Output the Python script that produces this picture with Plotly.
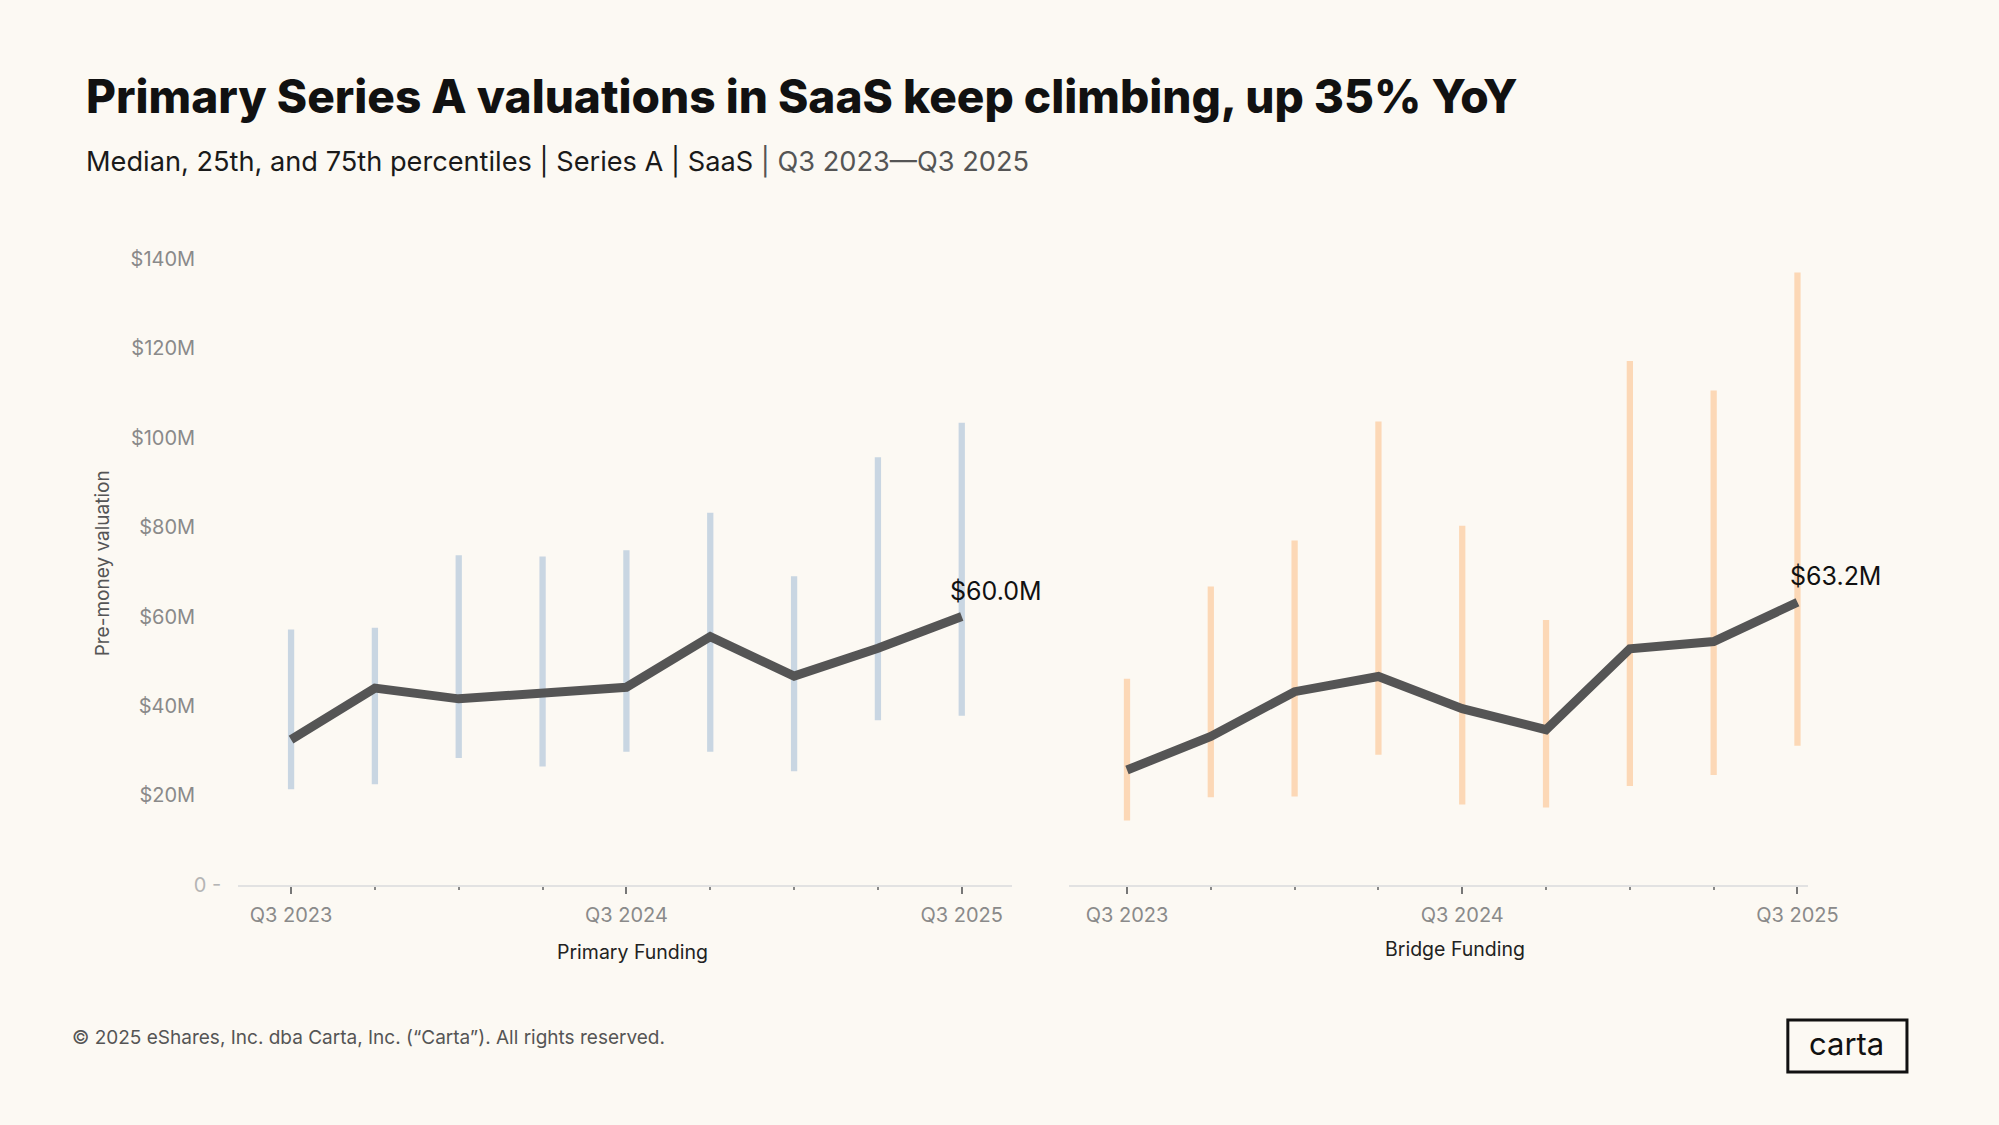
import plotly.graph_objects as go

W, H = 1999, 1125

quarters = list(range(9))  # Q3 2023 ... Q3 2025
tick_pos = [0, 4, 8]
tick_labels = ["Q3 2023", "Q3 2024", "Q3 2025"]

primary_p25 = [21.4, 22.5, 28.4, 26.5, 29.8, 29.8, 25.4, 36.8, 37.8]
primary_median = [32.5, 44.0, 41.6, 42.7, 44.2, 55.5, 46.7, 52.9, 60.0]
primary_p75 = [57.1, 57.5, 73.7, 73.4, 74.8, 83.2, 69.0, 95.6, 103.3]

bridge_p25 = [14.4, 19.6, 19.8, 29.1, 18.0, 17.3, 22.1, 24.6, 31.1]
bridge_median = [25.7, 33.2, 43.2, 46.6, 39.4, 34.7, 52.8, 54.4, 63.2]
bridge_p75 = [46.1, 66.7, 77.0, 103.6, 80.3, 59.2, 117.1, 110.5, 136.9]

y_ticks = [0, 20, 40, 60, 80, 100, 120, 140]

BG = "#fcf9f3"
FONT = "Inter"


def px(x):
    return x / W


def py(y):
    return 1 - y / H


def spread(p25, p75):
    return [hi - lo for lo, hi in zip(p25, p75)]


fig = go.Figure()

# percentile range bars
fig.add_trace(go.Bar(x=quarters, y=spread(primary_p25, primary_p75), base=primary_p25,
                     width=0.075, marker=dict(color="#c9d6e2", line=dict(width=0)),
                     xaxis="x", yaxis="y", showlegend=False, hoverinfo="skip"))
fig.add_trace(go.Bar(x=quarters, y=spread(bridge_p25, bridge_p75), base=bridge_p25,
                     width=0.075, marker=dict(color="#fcd8b6", line=dict(width=0)),
                     xaxis="x2", yaxis="y2", showlegend=False, hoverinfo="skip"))

# medians
fig.add_trace(go.Scatter(x=quarters, y=primary_median, mode="lines",
                         line=dict(color="#555555", width=9), xaxis="x", yaxis="y", showlegend=False))
fig.add_trace(go.Scatter(x=quarters, y=bridge_median, mode="lines",
                         line=dict(color="#555555", width=9), xaxis="x2", yaxis="y2", showlegend=False))

# invisible tail keeps the $ labels aligned left of the "0 -" tick
hidden = "<span style='color:rgba(0,0,0,0)'>\u00a0\u00a0\u00a0-</span>"
y_text = ["<span style='color:#b5b5b5'>0\u00a0-</span>"] + [f"${v}M{hidden}" for v in y_ticks[1:]]

xaxis_common = dict(
    tickmode="array", tickvals=tick_pos, ticktext=tick_labels,
    ticks="outside", ticklen=7, tickwidth=1.5, tickcolor="#777777",
    minor=dict(tickmode="linear", tick0=0, dtick=1, ticks="outside", ticklen=3, tickwidth=1.5,
               tickcolor="#888888", showgrid=False),
    showline=True, linecolor="#e2e2e2", linewidth=2,
    showgrid=False, zeroline=False,
    ticklabelstandoff=4,
    tickfont=dict(family=FONT, size=20, color="#8a8a8a"),
)

fig.update_layout(
    autosize=True,
    margin=dict(l=0, r=0, t=0, b=0),
    paper_bgcolor=BG, plot_bgcolor=BG,
    barmode="overlay",
    xaxis=dict(domain=[px(242), px(1028)], range=[-0.63, 8.6], anchor="y", **xaxis_common),
    xaxis2=dict(domain=[px(1086), px(1836)], range=[-0.69, 8.12], anchor="y2", **xaxis_common),
    yaxis=dict(domain=[py(892), py(252)], range=[0, 140], anchor="x",
               tickmode="array", tickvals=y_ticks, ticktext=y_text,
               showgrid=False, zeroline=False, showline=False, ticks="",
               ticklabelstandoff=16,
               tickfont=dict(family=FONT, size=20, color="#8a8a8a")),
    yaxis2=dict(domain=[py(892), py(252)], range=[0, 140], anchor="x2", matches="y",
                showticklabels=False, showgrid=False, zeroline=False, showline=False),
)

annotations = [
    dict(x=px(85), y=py(86), text="Primary Series A valuations in SaaS keep climbing, up 35% YoY",
         xanchor="left", yanchor="middle",
         font=dict(family=FONT, size=46, color="#111111", weight=800)),
    dict(x=px(85), y=py(153),
         text="Median, 25th, and 75th percentiles | Series A | SaaS "
              "<span style='color:#555555'>| Q3 2023\u2014Q3 2025</span>",
         xanchor="left", yanchor="middle",
         font=dict(family=FONT, size=27.2, color="#1a1a1a")),
    dict(x=px(105), y=py(563), text="Pre-money valuation", textangle=-90,
         xanchor="center", yanchor="middle",
         font=dict(family=FONT, size=19, color="#555555")),
    dict(x=px(642), y=py(961), text="Primary Funding", xanchor="center", yanchor="middle",
         font=dict(family=FONT, size=19.5, color="#222222")),
    dict(x=px(1478), y=py(957), text="Bridge Funding", xanchor="center", yanchor="middle",
         font=dict(family=FONT, size=19.5, color="#222222")),
    dict(x=quarters[-1], y=primary_median[-1], xref="x", yref="y",
         text=f"${primary_median[-1]:.1f}M", showarrow=False,
         xanchor="center", yanchor="middle", xshift=34, yshift=26,
         font=dict(family=FONT, size=25, color="#111111")),
    dict(x=quarters[-1], y=bridge_median[-1], xref="x2", yref="y2",
         text=f"${bridge_median[-1]:.1f}M", showarrow=False,
         xanchor="center", yanchor="middle", xshift=38, yshift=26,
         font=dict(family=FONT, size=25, color="#111111")),
    dict(x=px(71), y=py(1048),
         text="\u00a9 2025 eShares, Inc. dba Carta, Inc. (\u201cCarta\u201d). All rights reserved.",
         xanchor="left", yanchor="middle",
         font=dict(family=FONT, size=19, color="#555555")),
    dict(x=px(1876), y=py(1054), text="carta", xanchor="center", yanchor="middle",
         font=dict(family=FONT, size=31, color="#111111")),
]
for a in annotations:
    a.setdefault("xref", "paper")
    a.setdefault("yref", "paper")
    a.setdefault("showarrow", False)
fig.update_layout(annotations=annotations)

fig.add_shape(type="rect", xref="paper", yref="paper",
              x0=px(1816), x1=px(1937), y0=py(1083), y1=py(1030),
              line=dict(color="#111111", width=3), fillcolor="rgba(0,0,0,0)")

# let the figure fill the whole window, pinned to the top-left corner
page_fix = (
    "document.documentElement.style.overflow='hidden';"
    "document.body.style.margin='0';"
    "document.body.style.background='%s';"
    "var d=document.getElementById('{plot_id}');"
    "d.style.position='fixed';d.style.left='0';d.style.top='0';"
    "d.style.width='100vw';d.style.height='100vh';"
    "Plotly.Plots.resize(d);" % BG
)

fig.write_html("out.html", config={"displayModeBar": False, "responsive": True},
               default_width="100%", default_height="100%", post_script=page_fix)
